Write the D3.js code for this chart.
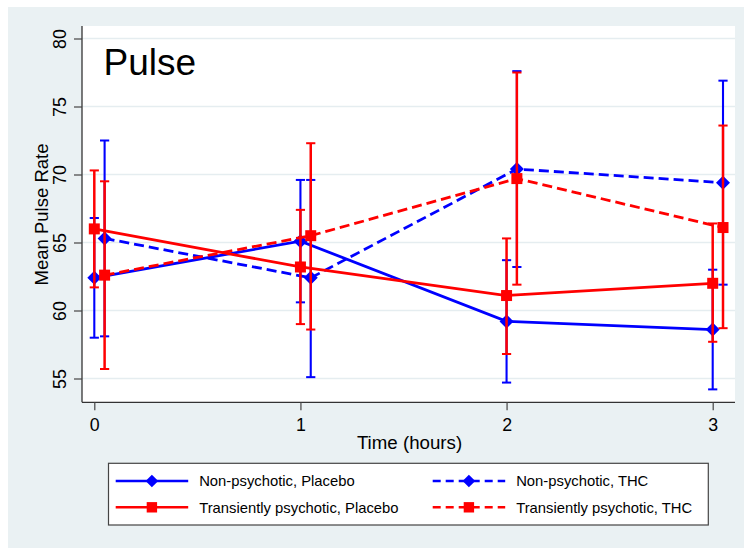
<!DOCTYPE html>
<html>
<head>
<meta charset="utf-8">
<script src="https://cdn.jsdelivr.net/npm/d3@7"></script>
<style>
    body{margin:0;background:#fff;}
    svg{display:block;font-family:"Liberation Sans",Arial,Helvetica,sans-serif;}
</style>
</head>
<body>
<svg id="chart" width="744" height="548"></svg>
<script>
// data
var times=[0,1,2,3];
var yTicks=[55,60,65,70,75,80];
var xTicks=[0,1,2,3];

var nonPlaceboMean=[62.4,65.1,59.2,58.6];
var nonPlaceboLo  =[58.0,60.6,54.7,54.2];
var nonPlaceboHi  =[66.8,69.6,63.7,63.0];

var nonThcMean=[65.3,62.4,70.4,69.4];
var nonThcLo  =[58.1,55.1,63.2,61.9];
var nonThcHi  =[72.5,69.6,77.6,76.9];

var transPlaceboMean=[66.0,63.2,61.1,62.0];
var transPlaceboLo  =[61.7,59.0,56.8,57.7];
var transPlaceboHi  =[70.3,67.4,65.3,66.4];

var transThcMean=[62.6,65.5,69.7,66.1];
var transThcLo  =[55.7,58.6,61.9,58.7];
var transThcHi  =[69.5,72.3,77.5,73.6];

var seriesNames=["Non-psychotic, Placebo","Non-psychotic, THC","Transiently psychotic, Placebo","Transiently psychotic, THC"];

var svg=d3.select("#chart");

var plotLeft=82, plotRight=735, plotTop=26, plotBottom=402.3;
var x=d3.scaleLinear().domain([0,3]).range([94.3,712.7]);
var y=d3.scaleLinear().domain([55,80]).range([378.5,38.5]);
var thcShift=0.05;

var series=[
    {name:seriesNames[0],mean:nonPlaceboMean,lo:nonPlaceboLo,hi:nonPlaceboHi,color:"#0000ff",dash:null,marker:"diamond",shift:0,barW:2.1},
    {name:seriesNames[1],mean:nonThcMean,lo:nonThcLo,hi:nonThcHi,color:"#0000ff",dash:"10,5",marker:"diamond",shift:thcShift,barW:2.1},
    {name:seriesNames[2],mean:transPlaceboMean,lo:transPlaceboLo,hi:transPlaceboHi,color:"#ff0000",dash:null,marker:"square",shift:0,barW:2.5},
    {name:seriesNames[3],mean:transThcMean,lo:transThcLo,hi:transThcHi,color:"#ff0000",dash:"10,5",marker:"square",shift:thcShift,barW:2.5}
];

// graph region + plot region
svg.append("rect").attr("x",8).attr("y",7).attr("width",736).attr("height",541).attr("fill","#eaf1f3");
svg.append("rect").attr("x",plotLeft).attr("y",plotTop)
    .attr("width",plotRight-plotLeft).attr("height",plotBottom-plotTop).attr("fill","#ffffff");

// grid
svg.append("g").selectAll("line").data(yTicks).enter().append("line")
    .attr("x1",plotLeft).attr("x2",plotRight)
    .attr("y1",function(d){return y(d);}).attr("y2",function(d){return y(d);})
    .attr("stroke","#e5edf0").attr("stroke-width",1.6);

// axes
var yAxis=svg.append("g").attr("transform","translate("+plotLeft+",0)")
    .call(d3.axisLeft(y).tickValues(yTicks).tickSize(8).tickFormat(d3.format("d")));
yAxis.select(".domain").attr("d","M0,"+plotTop+"V"+plotBottom);
yAxis.selectAll(".tick text")
    .attr("transform","rotate(-90)")
    .attr("x",0).attr("y",-16).attr("dy",0)
    .attr("text-anchor","middle");

var xAxis=svg.append("g").attr("transform","translate(0,"+plotBottom+")")
    .call(d3.axisBottom(x).tickValues(xTicks).tickSize(8).tickFormat(d3.format("d")));
xAxis.select(".domain").attr("d","M"+plotLeft+",0H"+plotRight);
xAxis.selectAll(".tick text").attr("y",28.4).attr("dy",0);

svg.selectAll(".domain").attr("stroke","#333").attr("stroke-width",1.3);
svg.selectAll(".tick line").attr("stroke","#444").attr("stroke-width",1.2);
svg.selectAll(".tick text").attr("fill","#000").style("font-size","17.8px").style("font-family","inherit");

// axis titles
svg.append("text").attr("transform","translate(47.5,214.5) rotate(-90)")
    .attr("text-anchor","middle").style("font-size","18.5px").text("Mean Pulse Rate");
svg.append("text").attr("x",409.5).attr("y",449.3)
    .attr("text-anchor","middle").style("font-size","18.7px").text("Time (hours)");

// title inside the plot
svg.append("text").attr("x",103.5).attr("y",75).style("font-size","37px").text("Pulse");

function drawMarker(g,type,cx,cy,color,sz){
    if (type==="diamond"){
        var h=sz||7;
        g.append("path")
            .attr("d","M"+cx+","+(cy-h)+"L"+(cx+h)+","+cy+"L"+cx+","+(cy+h)+"L"+(cx-h)+","+cy+"Z")
            .attr("fill",color);
    }else{
        var s=sz||5.5;
        g.append("rect").attr("x",cx-s).attr("y",cy-s).attr("width",2*s).attr("height",2*s).attr("fill",color);
    }
}

var line=d3.line()
    .x(function(d){return x(d.t);})
    .y(function(d){return y(d.v);});

series.forEach(function(s){
    var g=svg.append("g");
    var pts=times.map(function(t,i){return {t:t+s.shift,v:s.mean[i],lo:s.lo[i],hi:s.hi[i]};});

    // error bars with caps
    pts.forEach(function(p){
        var cx=x(p.t);
        g.append("line").attr("x1",cx).attr("x2",cx).attr("y1",y(p.lo)).attr("y2",y(p.hi))
            .attr("stroke",s.color).attr("stroke-width",s.barW);
        [p.lo,p.hi].forEach(function(v){
            g.append("line").attr("x1",cx-4.6).attr("x2",cx+4.6).attr("y1",y(v)).attr("y2",y(v))
                .attr("stroke",s.color).attr("stroke-width",2);
        });
    });

    g.append("path").datum(pts).attr("d",line)
        .attr("fill","none").attr("stroke",s.color).attr("stroke-width",2.8)
        .attr("stroke-dasharray",s.dash);

    pts.forEach(function(p){
        drawMarker(g,s.marker,x(p.t),y(p.v),s.color);
    });
});

// legend
var legend=svg.append("g");
legend.append("rect").attr("x",108.5).attr("y",463.3).attr("width",599.8).attr("height",61.7)
    .attr("fill","#fff").attr("stroke","#444").attr("stroke-width",1.2);

var legendCols=[115.7,432.7];
var legendRows=[481,507.3];
series.forEach(function(s,i){
    var lx=legendCols[i%2], ly=legendRows[Math.floor(i/2)];
    legend.append("line").attr("x1",lx).attr("x2",lx+72.5).attr("y1",ly).attr("y2",ly)
        .attr("stroke",s.color).attr("stroke-width",2.5).attr("stroke-dasharray",s.dash?"8,5":null);
    drawMarker(legend,s.marker,lx+36.2,ly,s.color,s.marker==="diamond"?6.3:5.2);
    legend.append("text").attr("x",lx+83.5).attr("y",ly).attr("dy","0.36em")
        .style("font-size","14.8px").text(s.name);
});
</script>
</body>
</html>
